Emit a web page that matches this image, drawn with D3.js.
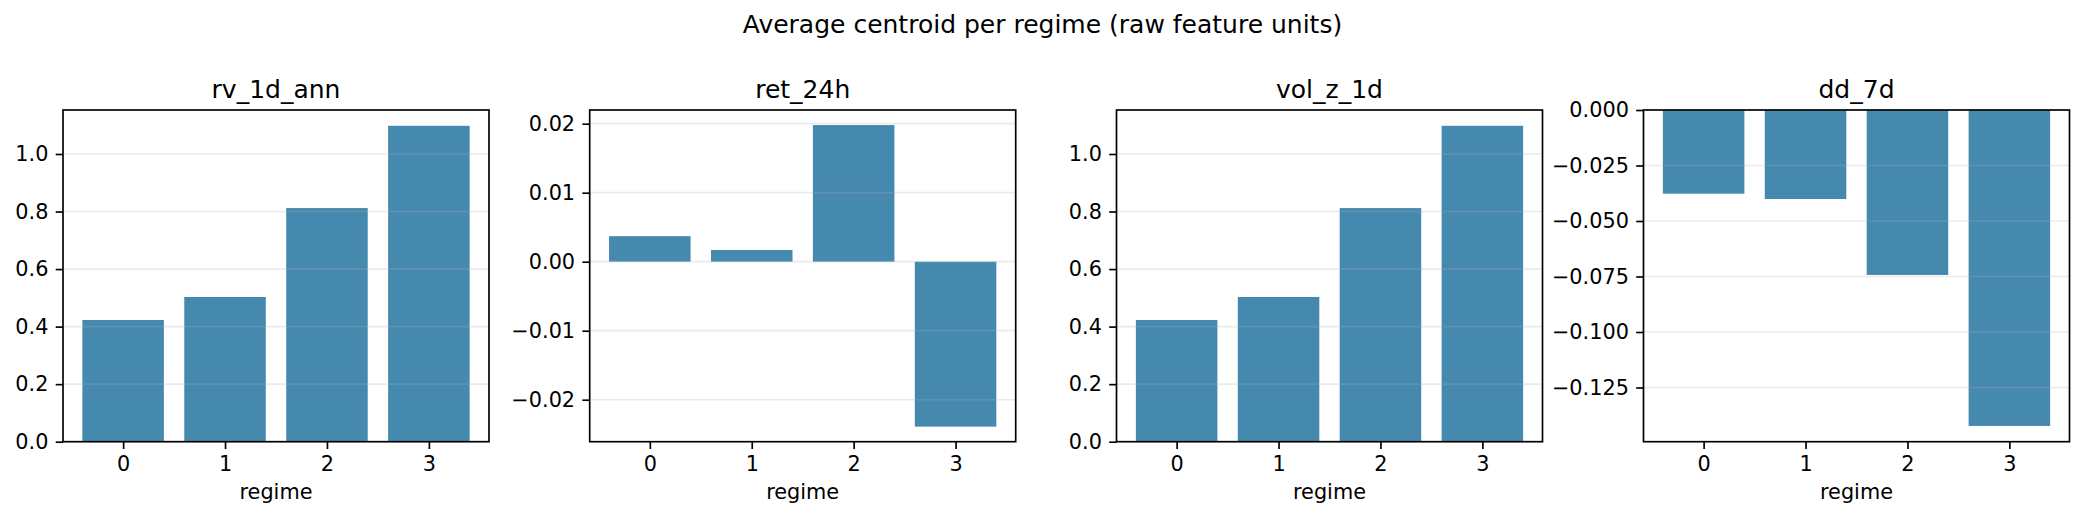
<!DOCTYPE html>
<html>
<head>
<meta charset="utf-8">
<script src="https://cdn.jsdelivr.net/npm/d3@7"></script>
<style>
  body { margin: 0; background: #fff; }
  text { font-family: "DejaVu Sans", sans-serif; fill: #000; }
  .tick text { font-size: 20.8px; }
  .tick line { stroke: #000; stroke-width: 1.67; }
</style>
</head>
<body>
<div id="chart"></div>
<script>
// data
var features = ["rv_1d_ann", "ret_24h", "vol_z_1d", "dd_7d"];
var regimes = [0, 1, 2, 3];
var rv_1d_ann = [0.423, 0.503, 0.812, 1.098];
var ret_24h = [0.0037, 0.0017, 0.0198, -0.0239];
var vol_z_1d = [0.423, 0.503, 0.812, 1.098];
var dd_7d = [-0.0377, -0.0401, -0.0743, -0.1423];

var yTicks_rv = [0.0, 0.2, 0.4, 0.6, 0.8, 1.0];
var yTicks_ret = [-0.02, -0.01, 0.00, 0.01, 0.02];
var yTicks_vol = [0.0, 0.2, 0.4, 0.6, 0.8, 1.0];
var yTicks_dd = [-0.125, -0.100, -0.075, -0.050, -0.025, 0.000];
var tickDecimals = [1, 2, 1, 3];

var seriesList = [rv_1d_ann, ret_24h, vol_z_1d, dd_7d];
var tickList = [yTicks_rv, yTicks_ret, yTicks_vol, yTicks_dd];

var svgWidth = 2085, svgHeight = 520;
var panelLeft = [63, 589.7, 1116.5, 1643.5];
var panelWidth = 426;
var plotTop = 110, plotBottom = 441.7;
var barColor = "#4689ae";

var svg = d3.select("#chart")
  .append("svg")
  .attr("width", svgWidth)
  .attr("height", svgHeight);

svg.append("text")
  .attr("x", 1042.5)
  .attr("y", 33)
  .attr("text-anchor", "middle")
  .style("font-size", "25px")
  .text("Average centroid per regime (raw feature units)");

function fmt(dec) {
  return function(d) {
    return d3.format("." + dec + "f")(d).replace("-", "\u2212");
  };
}

features.forEach(function(name, i) {
  var vals = seriesList[i];
  var chartGroup = svg.append("g")
    .attr("transform", `translate(${panelLeft[i]}, 0)`);

  // matplotlib-like limits: 5% margin, sticky at zero
  var lo = Math.min(0, d3.min(vals)), hi = Math.max(0, d3.max(vals));
  var r = hi - lo;
  var yLo = lo < 0 ? lo - 0.05 * r : 0;
  var yHi = hi > 0 ? hi + 0.05 * r : 0;

  var xScale = d3.scaleLinear()
    .domain([-0.59, 3.59])
    .range([0, panelWidth]);

  var yScale = d3.scaleLinear()
    .domain([yLo, yHi])
    .range([plotBottom, plotTop]);

  // bars
  chartGroup.selectAll("rect.bar")
    .data(regimes)
    .enter()
    .append("rect")
    .attr("class", "bar")
    .attr("x", d => xScale(d - 0.4))
    .attr("width", d => xScale(d + 0.4) - xScale(d - 0.4))
    .attr("y", (d, j) => yScale(Math.max(0, vals[j])))
    .attr("height", (d, j) => Math.abs(yScale(vals[j]) - yScale(0)))
    .attr("fill", barColor);

  // grid over the bars
  chartGroup.selectAll("line.grid")
    .data(tickList[i])
    .enter()
    .append("line")
    .attr("class", "grid")
    .attr("x1", 0)
    .attr("x2", panelWidth)
    .attr("y1", d => yScale(d))
    .attr("y2", d => yScale(d))
    .attr("stroke", "#b0b0b0")
    .attr("stroke-opacity", 0.25)
    .attr("stroke-width", 1.67);

  var leftAxis = d3.axisLeft(yScale)
    .tickValues(tickList[i])
    .tickFormat(fmt(tickDecimals[i]))
    .tickSizeOuter(0)
    .tickSize(7.3)
    .tickPadding(7.3);

  var bottomAxis = d3.axisBottom(xScale)
    .tickValues(regimes)
    .tickFormat(d => d)
    .tickSizeOuter(0)
    .tickSize(7.3)
    .tickPadding(7.3);

  var ya = chartGroup.append("g").call(leftAxis);
  ya.select(".domain").remove();
  ya.selectAll("text").attr("font-family", null).attr("font-size", null);

  var xa = chartGroup.append("g")
    .attr("transform", `translate(0, ${plotBottom})`)
    .call(bottomAxis);
  xa.select(".domain").remove();
  xa.selectAll("text").attr("font-family", null).attr("font-size", null);

  // frame
  chartGroup.append("rect")
    .attr("x", 0)
    .attr("y", plotTop)
    .attr("width", panelWidth)
    .attr("height", plotBottom - plotTop)
    .attr("fill", "none")
    .attr("stroke", "#000")
    .attr("stroke-width", 1.67);

  chartGroup.append("text")
    .attr("x", panelWidth / 2)
    .attr("y", 97.5)
    .attr("text-anchor", "middle")
    .style("font-size", "25px")
    .text(name);

  chartGroup.append("text")
    .attr("x", panelWidth / 2)
    .attr("y", 499)
    .attr("text-anchor", "middle")
    .style("font-size", "20.8px")
    .text("regime");
});
</script>
</body>
</html>
